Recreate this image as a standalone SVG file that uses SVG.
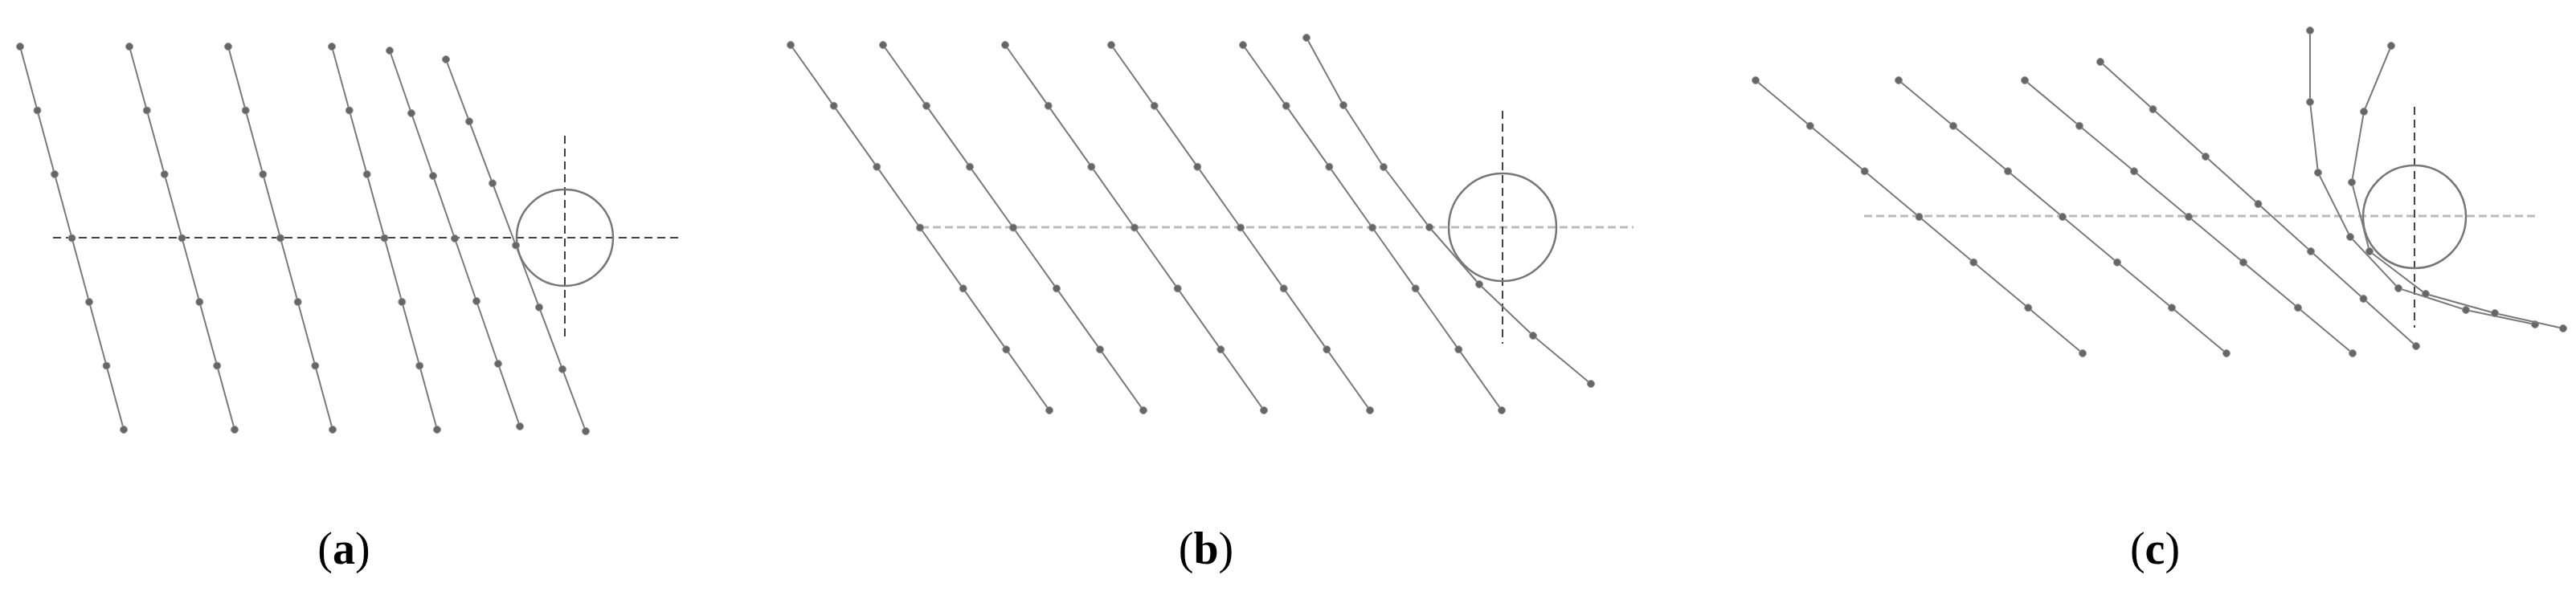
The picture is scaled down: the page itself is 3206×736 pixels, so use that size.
<svg xmlns="http://www.w3.org/2000/svg" width="3206" height="736" viewBox="0 0 3206 736">
<style>
.ln{fill:none;stroke:#7a7a7a;stroke-width:2;marker-start:url(#d);marker-mid:url(#d);marker-end:url(#d)}
.dk{fill:none;stroke:#444;stroke-width:2;stroke-dasharray:10 6}
.lt{fill:none;stroke:#bbb;stroke-width:3;stroke-dasharray:10 5}
.cr{fill:none;stroke:#777;stroke-width:2.5}
.lb{font-family:"Liberation Serif",serif;font-size:56px;text-anchor:middle;fill:#000}
</style>
<defs><marker id="d" viewBox="-6 -6 12 12" markerWidth="12" markerHeight="12" markerUnits="userSpaceOnUse"><circle r="4.5" fill="#666" stroke="#999" stroke-width="1"/></marker></defs>
<rect width="3206" height="736" fill="#fff"/>
<g id="panel-a">
<line class="dk" x1="66" y1="296" x2="847" y2="296"/>
<line class="dk" x1="703" y1="169" x2="703" y2="425"/>
<circle class="cr" cx="703" cy="296" r="60"/>
<polyline class="ln" points="25,58 46.5,137.5 68,217 89.5,296.5 111,376 132.5,455.5 154,535"/>
<polyline class="ln" points="161,58 182.8,137.5 204.7,217 226.5,296.5 248.3,376 270.2,455.5 292,535"/>
<polyline class="ln" points="284,58 305.7,137.5 327.3,217 349,296.5 370.7,376 392.3,455.5 414,535"/>
<polyline class="ln" points="413,58 434.8,137.5 456.7,217 478.5,296.5 500.3,376 522.2,455.5 544,535"/>
<polyline class="ln" points="485,63 512,141 539,219 566,297 593,375 620,453 647,531"/>
<polyline class="ln" points="555,74 584,151.2 613,228.3 642,305.5 671,382.7 700,459.8 729,537"/>
<text class="lb" x="428" y="702">(<tspan font-weight="bold">a</tspan>)</text>
</g>
<g id="panel-b">
<line class="lt" x1="1146" y1="283" x2="2033" y2="283"/>
<line class="dk" x1="1870" y1="138" x2="1870" y2="428"/>
<circle class="cr" cx="1870" cy="283" r="67"/>
<polyline class="ln" points="984,56 1037.7,131.8 1091.3,207.7 1145,283.5 1198.7,359.3 1252.3,435.2 1306,511"/>
<polyline class="ln" points="1099,56 1153,131.8 1207,207.7 1261,283.5 1315,359.3 1369,435.2 1423,511"/>
<polyline class="ln" points="1251,56 1304.7,131.8 1358.3,207.7 1412,283.5 1465.7,359.3 1519.3,435.2 1573,511"/>
<polyline class="ln" points="1383,56 1436.7,131.8 1490.3,207.7 1544,283.5 1597.7,359.3 1651.3,435.2 1705,511"/>
<polyline class="ln" points="1547,56 1600.7,131.8 1654.3,207.7 1708,283.5 1761.7,359.3 1815.3,435.2 1869,511"/>
<polyline class="ln" points="1626,47 1672,131 1722,208 1779,283 1841,354 1908,418 1980,478"/>
<text class="lb" x="1501" y="702">(<tspan font-weight="bold">b</tspan>)</text>
</g>
<g id="panel-c">
<line class="lt" x1="2320" y1="269" x2="3158" y2="269"/>
<line class="dk" x1="3005" y1="133" x2="3005" y2="408"/>
<circle class="cr" cx="3005" cy="270" r="64"/>
<polyline class="ln" points="2185,100 2252.8,156.7 2320.7,213.3 2388.5,270 2456.3,326.7 2524.2,383.3 2592,440"/>
<polyline class="ln" points="2363,100 2431,156.7 2499,213.3 2567,270 2635,326.7 2703,383.3 2771,440"/>
<polyline class="ln" points="2520,100 2588,156.7 2656,213.3 2724,270 2792,326.7 2860,383.3 2928,440"/>
<polyline class="ln" points="2614,77 2679.5,136 2745,195 2810.5,254 2876,313 2941.5,372 3007,431"/>
<polyline class="ln" points="2875,38 2875,127 2885,215 2925,295 2985,359 3069,386 3155,404"/>
<polyline class="ln" points="2976,57 2942,139 2927,227 2949,313 3019,366 3105,390 3190,409"/>
<text class="lb" x="2682" y="702">(<tspan font-weight="bold">c</tspan>)</text>
</g>
</svg>
